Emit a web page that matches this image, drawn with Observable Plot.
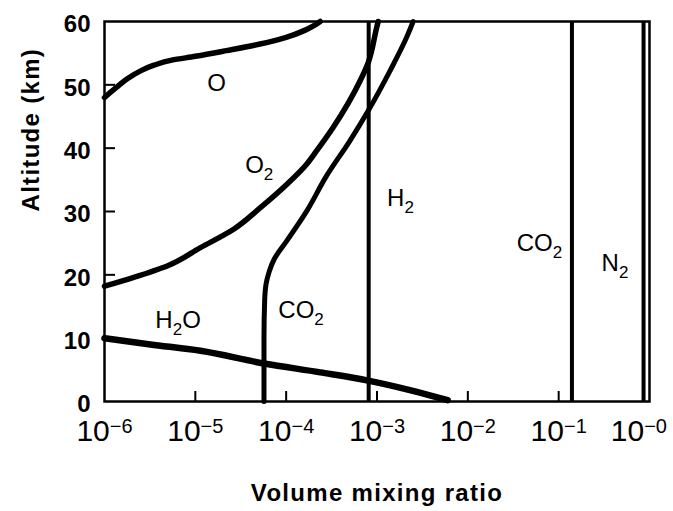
<!DOCTYPE html>
<html>
<head>
<meta charset="utf-8">
<script src="https://cdn.jsdelivr.net/npm/d3@7"></script>
<script src="https://cdn.jsdelivr.net/npm/@observablehq/plot@0.6"></script>
<style>
  html, body { margin: 0; padding: 0; background: #fff; }
</style>
</head>
<body>
<div id="chart"></div>
<script>
// ---- tick labels ----
const decades = [1e-6, 1e-5, 1e-4, 1e-3, 1e-2, 1e-1, 1];
const decadeExponents = ["−6", "−5", "−4", "−3", "−2", "−1", "−0"];
const altitudeTicks = [0, 10, 20, 30, 40, 50, 60];

// ---- variable profiles (volume mixing ratio vs altitude, km) ----
const oRatio    = [1.0e-6, 1.35e-6, 1.8e-6, 2.5e-6, 3.5e-6, 5.5e-6, 1.0e-5, 2.2e-5, 5.0e-5, 1.0e-4, 1.6e-4, 2.0e-4, 2.37e-4];
const oAltitude = [48, 49.6, 51.0, 52.2, 53.1, 53.9, 54.5, 55.4, 56.4, 57.5, 58.6, 59.3, 60];

const o2Ratio    = [1.0e-6, 2.1e-6, 4.9e-6, 1.14e-5, 2.64e-5, 5.2e-5, 1.02e-4, 1.69e-4, 2.17e-4, 3.3e-4, 6.5e-4, 8.0e-4, 9.9e-4, 1.03e-3];
const o2Altitude = [18.2, 19.6, 21.4, 24.3, 27.2, 30.6, 34.3, 37.5, 39.6, 43.3, 50.6, 53.5, 59, 60];

const co2Ratio    = [5.7e-5, 5.7e-5, 5.8e-5, 6.0e-5, 6.5e-5, 7.4e-5, 1.02e-4, 1.69e-4, 2.75e-4, 5.05e-4, 8.0e-4, 1.39e-3, 2.12e-3, 2.5e-3];
const co2Altitude = [0, 10, 16, 18.5, 20.5, 22.5, 25.4, 30.1, 35.5, 41.2, 45.9, 52.2, 57.5, 60];

const h2oRatio    = [1.0e-6, 3.2e-6, 1.14e-5, 5.7e-5, 2.37e-4, 8.0e-4, 2.3e-3, 6.0e-3];
const h2oAltitude = [10, 9.0, 8.0, 6.0, 4.6, 3.3, 1.8, 0.2];

// ---- well-mixed constituents (constant with altitude) ----
const constantSpecies = ["H2", "CO2", "N2"];
const constantRatios  = [8.1e-4, 0.14, 0.86];

// ---- species labels ----
const labelText     = ["O", "O2", "H2", "CO2", "N2", "H2O", "CO2"];
const labelRatio    = [1.35e-5, 3.54e-5, 1.29e-3, 0.0345, 0.297, 3.63e-6, 8.2e-5];
const labelAltitude = [49.1, 36.1, 30.9, 23.8, 20.6, 11.6, 13.2];

const xTitle = "Volume mixing ratio";
const yTitle = "Altitude (km)";

// ---- tables built from the arrays ----
const series = (ratio, alt) => ratio.map((r, i) => ({ratio: r, altitude: alt[i]}));
const labels = labelText.map((t, i) => ({text: t, ratio: labelRatio[i], altitude: labelAltitude[i]}));
const xMin = decades[0];
const yMin = altitudeTicks[0];

const chart = Plot.plot({
  width: 673,
  height: 511,
  marginLeft: 104,
  marginRight: 24,
  marginTop: 21,
  marginBottom: 110,
  style: {
    fontFamily: "'Liberation Sans', Arial, Helvetica, sans-serif",
    background: "white",
    color: "black",
    overflow: "visible"
  },
  x: {type: "log", domain: [decades[0], decades[decades.length - 1]]},
  y: {domain: [altitudeTicks[0], altitudeTicks[altitudeTicks.length - 1]]},
  marks: [
    // y tick labels
    Plot.axisY({ticks: altitudeTicks, tickSize: 0, tickPadding: 14, fontSize: 24, fontWeight: "bold", dy: 3, label: null}),
    // x tick labels
    Plot.axisX({ticks: decades, tickSize: 0, tickPadding: 18, fontSize: 30, label: null,
      tickFormat: d => "10^" + decadeExponents[decades.indexOf(d)]}),

    // inward ticks (short rules growing into the frame from the axes)
    Plot.ruleY(altitudeTicks.slice(1, -1), {y: d => d, x1: xMin, x2: xMin, insetRight: -11, stroke: "black", strokeWidth: 2}),
    Plot.ruleX(decades.slice(1, -1), {x: d => d, y1: yMin, y2: yMin, insetTop: -10, stroke: "black", strokeWidth: 2}),

    // constant mixing ratios
    Plot.ruleX(constantRatios, {x: d => d, stroke: "black", strokeWidth: 4}),

    // variable profiles
    Plot.line(series(o2Ratio, o2Altitude), {x: "ratio", y: "altitude", stroke: "black", strokeWidth: 5.5, curve: "monotone-y"}),
    Plot.line(series(oRatio, oAltitude), {x: "ratio", y: "altitude", stroke: "black", strokeWidth: 5.5, curve: "monotone-y"}),
    Plot.line(series(co2Ratio, co2Altitude), {x: "ratio", y: "altitude", stroke: "black", strokeWidth: 5, curve: "monotone-y"}),
    Plot.line(series(h2oRatio, h2oAltitude), {x: "ratio", y: "altitude", stroke: "black", strokeWidth: 6.5, curve: "monotone-x"}),

    Plot.frame({stroke: "black", strokeWidth: 2.5}),

    // species labels
    Plot.text(labels, {x: "ratio", y: "altitude", text: "text", textAnchor: "start", lineAnchor: "bottom",
      fontSize: 24, fill: "black"}),

    // axis titles
    Plot.text([xTitle], {text: d => d, frameAnchor: "bottom", lineAnchor: "bottom", dy: 99,
      fontSize: 24, fontWeight: "bold", fill: "black"}),
    Plot.text([yTitle], {text: d => d, frameAnchor: "left", rotate: -90, lineAnchor: "bottom", dx: -65.5,
      fontSize: 24, fontWeight: "bold", fill: "black"})
  ]
});

document.getElementById("chart").append(chart);

const NS = "http://www.w3.org/2000/svg";
chart.querySelectorAll("text").forEach(el => {
  const s = el.textContent;
  if (s.includes("^")) {
    // superscript exponents on the x tick labels
    const [base, exp] = s.split("^");
    el.textContent = "";
    const b = document.createElementNS(NS, "tspan");
    b.textContent = base;
    const e = document.createElementNS(NS, "tspan");
    e.textContent = exp;
    e.setAttribute("font-size", 20);
    e.setAttribute("dy", -8);
    el.append(b, e);
    // keep the label inside the picture
    const box = el.getBBox();
    const m = el.getCTM();
    const right = box.x + box.width + (m ? m.e : 0);
    if (right > 669) {
      const x0 = +(el.getAttribute("x") || 0);
      el.setAttribute("x", x0 - (right - 667));
    }
  } else if (s === xTitle || s === yTitle) {
    el.setAttribute("letter-spacing", 1.3);
  } else if (labelText.includes(s) && /\d/.test(s)) {
    // subscripts in chemical formulae
    el.textContent = "";
    let down = false;
    for (const run of s.match(/\d+|\D+/g)) {
      const t = document.createElementNS(NS, "tspan");
      t.textContent = run;
      if (/\d/.test(run)) { t.setAttribute("font-size", 17); t.setAttribute("dy", 7); down = true; }
      else if (down) { t.setAttribute("dy", -7); down = false; }
      el.appendChild(t);
    }
  }
});
</script>
</body>
</html>
